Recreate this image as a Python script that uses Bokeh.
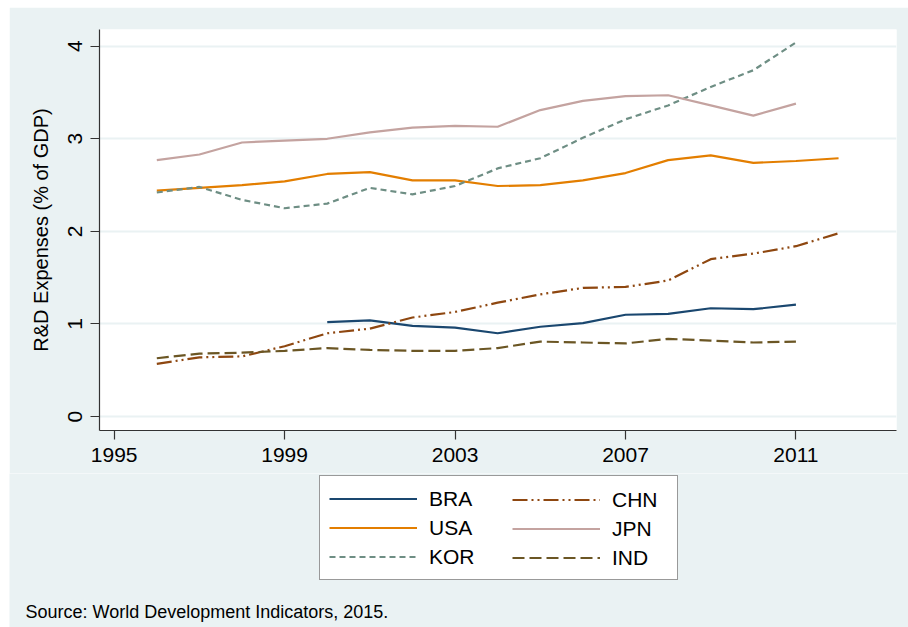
from bokeh.plotting import figure
from bokeh.layouts import column
from bokeh.models import Legend, LegendItem, Label, FixedTicker, Range1d
from bokeh.embed import file_html
from bokeh.resources import INLINE

years = list(range(1996, 2013))
bra_years = list(range(2000, 2012))
bra = [1.02, 1.04, 0.98, 0.96, 0.90, 0.97, 1.01, 1.10, 1.11, 1.17, 1.16, 1.21]
usa = [2.44, 2.47, 2.50, 2.54, 2.62, 2.64, 2.55, 2.55, 2.49, 2.50, 2.55, 2.63, 2.77, 2.82, 2.74, 2.76, 2.79]
kor = [2.42, 2.48, 2.34, 2.25, 2.30, 2.47, 2.40, 2.49, 2.68, 2.79, 3.01, 3.21, 3.36, 3.56, 3.74, 4.04]
chn = [0.57, 0.64, 0.65, 0.76, 0.90, 0.95, 1.07, 1.13, 1.23, 1.32, 1.39, 1.40, 1.47, 1.70, 1.76, 1.84, 1.98]
jpn = [2.77, 2.83, 2.96, 2.98, 3.00, 3.07, 3.12, 3.14, 3.13, 3.31, 3.41, 3.46, 3.47, 3.36, 3.25, 3.38]
ind = [0.63, 0.68, 0.69, 0.71, 0.74, 0.72, 0.71, 0.71, 0.74, 0.81, 0.80, 0.79, 0.84, 0.82, 0.80, 0.81]
x_ticks = [1995, 1999, 2003, 2007, 2011]
y_ticks = [0, 1, 2, 3, 4]
source_text = "Source: World Development Indicators, 2015."

BG = "#EAF2F3"
FONT = "Liberation Sans"
LW = 2.2
styles = {
    "BRA": dict(line_color="#1A476F", line_width=LW),
    "USA": dict(line_color="#E37E00", line_width=LW),
    "KOR": dict(line_color="#6E8E84", line_width=LW, line_dash="6 4"),
    "CHN": dict(line_color="#8E4710", line_width=LW, line_dash="15 4 2 4 2 4"),
    "JPN": dict(line_color="#C4A3A0", line_width=LW),
    "IND": dict(line_color="#6B5624", line_width=LW, line_dash="12 5"),
}

# ---- main chart ----
p = figure(width=899, height=466, output_backend="svg", toolbar_location=None,
           x_range=Range1d(1994.655, 2013.36), y_range=Range1d(-0.15, 4.18),
           min_border_left=90, min_border_top=22, min_border_right=12, min_border_bottom=43,
           margin=(7, 0, 0, 9))
p.background_fill_color = "white"
p.border_fill_color = BG
p.outline_line_color = None

p.xgrid.grid_line_color = None
p.ygrid.grid_line_color = BG
p.ygrid.grid_line_width = 2

for ax in (p.xaxis[0], p.yaxis[0]):
    ax.axis_line_color = "#333333"
    ax.axis_line_width = 1.2
    ax.major_tick_line_color = "#333333"
    ax.major_tick_line_width = 1.2
    ax.major_tick_out = 9
    ax.major_tick_in = 0
    ax.minor_tick_line_color = None
    ax.major_label_text_font = FONT
    ax.major_label_text_font_size = "21px"
    ax.major_label_text_color = "black"

p.xaxis.ticker = FixedTicker(ticks=x_ticks)
p.yaxis.ticker = FixedTicker(ticks=y_ticks)
p.yaxis.major_label_orientation = "vertical"
p.xaxis.major_label_standoff = 8
p.yaxis.major_label_standoff = 8
p.yaxis.axis_label = "R&D Expenses (% of GDP)"
p.yaxis.axis_label_text_font = FONT
p.yaxis.axis_label_text_font_size = "20px"
p.yaxis.axis_label_text_font_style = "normal"
p.yaxis.axis_label_text_color = "black"
p.yaxis.axis_label_standoff = 14

p.line(bra_years, bra, **styles["BRA"])
p.line(years, usa, **styles["USA"])
p.line(years[:16], kor, **styles["KOR"])
p.line(years, chn, **styles["CHN"])
p.line(years[:16], jpn, **styles["JPN"])
p.line(years[:16], ind, **styles["IND"])

# ---- legend + note area ----
q = figure(width=899, height=154, output_backend="svg", toolbar_location=None,
           x_range=Range1d(0, 899), y_range=Range1d(0, 154),
           min_border=0, min_border_left=0, min_border_right=0,
           min_border_top=0, min_border_bottom=0, margin=(0, 0, 0, 9))
q.frame_align = False
q.axis.visible = False
q.grid.visible = False
q.background_fill_color = BG
q.border_fill_color = BG
q.outline_line_color = None

nan = float("nan")
# legend keys only (a single undefined point, nothing drawn in the area)
proxies = {k: q.line(x=[nan], y=[nan], **v) for k, v in styles.items()}


def make_legend(names, loc, framed, label_width):
    lg = Legend(items=[LegendItem(label=n, renderers=[proxies[n]]) for n in names],
                location=loc, orientation="vertical")
    lg.label_text_font = FONT
    lg.label_text_font_size = "21px"
    lg.label_text_color = "black"
    lg.glyph_width = 88
    lg.glyph_height = 27
    lg.label_height = 27
    lg.label_width = label_width
    lg.label_standoff = 12
    lg.spacing = 2
    lg.padding = 9
    lg.margin = 0
    if framed:
        lg.border_line_color = "#333333"
        lg.border_line_width = 1.2
        lg.background_fill_color = "white"
        lg.background_fill_alpha = 1
    else:
        lg.border_line_color = None
        lg.background_fill_alpha = 0
    return lg


q.add_layout(make_legend(["BRA", "USA", "KOR"], (310, 47), True, 239))
q.add_layout(make_legend(["CHN", "JPN", "IND"], (503, 56), False, 20))

q.add_layout(Label(x=16, y=16, text=source_text, text_font=FONT, text_font_size="18px",
                   text_color="black", text_baseline="middle", text_align="left"))

layout = column(p, q, spacing=0)
open("out.html", "w").write(file_html(layout, INLINE))
